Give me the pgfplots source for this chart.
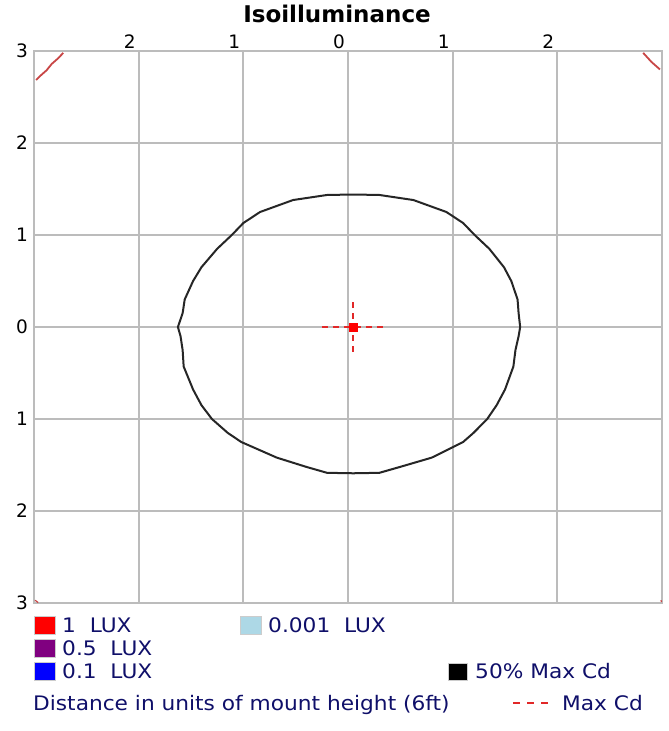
\documentclass[border=0pt]{standalone}
\usepackage{fontspec}
\setmainfont{DejaVu Sans}
\usepackage{graphicx}
\usepackage{pgfplots}
\pgfplotsset{compat=1.18}
\definecolor{gridgray}{RGB}{188,188,188}
\definecolor{navytxt}{RGB}{15,15,105}
\definecolor{luxred}{RGB}{200,70,70}
\definecolor{maxred}{RGB}{225,40,40}
\definecolor{lightb}{RGB}{173,216,230}
\begin{document}
\begin{tikzpicture}[x=1pt,y=1pt]
\useasboundingbox (0,0) rectangle (669,731);
\begin{axis}[
  at={(34pt,128pt)}, anchor=south west,
  scale only axis, width=628pt, height=552pt,
  xmin=-3,xmax=3,ymin=-3,ymax=3,
  axis line style={gridgray, line width=2.2pt},
  grid=major, grid style={gridgray, line width=2.2pt},
  major grid style={gridgray, line width=2.2pt},
  major tick length=0pt,
  xtick={-2,-1,0,1,2}, xticklabels={2,1,0,1,2},
  xticklabel pos=upper,
  ytick={-3,-2,-1,0,1,2,3}, yticklabels={3,2,1,0,1,2,3},
  ticklabel style={font=\fontsize{18.5}{20}\selectfont, text=black},
  xticklabel style={anchor=center, xshift=-9pt, yshift=9pt},
  yticklabel style={anchor=center, xshift=-12pt},
  /pgf/number format/assume math mode=true,
  clip=false,
]
% 50% Max Cd contour
\addplot[black!85, line width=2pt, line join=round] coordinates {
(0.05,1.44) (-0.2,1.435) (-0.525,1.38) (-0.84,1.25) (-1.0,1.13) (-1.11,1.0)
(-1.25,0.85) (-1.40,0.65) (-1.48,0.50) (-1.56,0.30) (-1.58,0.15) (-1.625,0.0)
(-1.60,-0.10) (-1.58,-0.25) (-1.57,-0.43) (-1.48,-0.68) (-1.40,-0.85) (-1.30,-1.0)
(-1.15,-1.15) (-1.02,-1.25) (-0.68,-1.42) (-0.4,-1.52) (-0.2,-1.585) (0.05,-1.59)
(0.3,-1.585) (0.5,-1.52) (0.8,-1.42) (1.1,-1.25) (1.2,-1.15) (1.33,-1.0)
(1.42,-0.85) (1.5,-0.68) (1.58,-0.43) (1.6,-0.25) (1.63,-0.1) (1.645,0)
(1.63,0.15) (1.62,0.3) (1.56,0.5) (1.49,0.65) (1.35,0.85) (1.21,1.0)
(1.1,1.13) (0.94,1.25) (0.625,1.38) (0.3,1.435) (0.05,1.44)
};
% 1 LUX corner traces
\addplot[luxred, line width=1.8pt] coordinates {(-2.98,2.685) (-2.93,2.74) (-2.88,2.79) (-2.83,2.86) (-2.77,2.92) (-2.72,2.98)};
\addplot[luxred, line width=1.8pt] coordinates {(2.82,2.98) (2.86,2.93) (2.90,2.88) (2.94,2.84) (2.98,2.80)};
\addplot[luxred, line width=1.2pt] coordinates {(-2.99,-2.97) (-2.96,-2.995)};
\addplot[luxred, line width=1.2pt] coordinates {(2.99,-2.97) (2.995,-2.99)};
% Max Cd
\addplot[maxred, dash pattern=on 6pt off 5pt, line width=2.4pt] coordinates {(-0.25,0) (0.33,0)};
\addplot[maxred, dash pattern=on 6pt off 5pt, line width=2.4pt] coordinates {(0.05,-0.27) (0.05,0.30)};
\addplot[only marks, mark=square*, mark size=4pt, red, mark options={draw=red}] coordinates {(0.05,0)};
\end{axis}
% title
\node[font=\fontsize{23}{27}\selectfont\bfseries, inner sep=0] at (337,717) {Isoilluminance};
% legend
\fill[red, draw=gray!40] (34,97) rectangle (55,115);
\fill[fill={rgb,255:red,128;green,0;blue,128}, draw=gray!40] (34,74) rectangle (55,92);
\fill[blue, draw=gray!40] (34,51) rectangle (55,69);
\fill[lightb, draw=gray!40] (240,97) rectangle (261,115);
\fill[black, draw=gray!40] (448,51) rectangle (467,68);
\begin{scope}[every node/.style={anchor=base west, inner sep=0, text=navytxt, font=\fontsize{20}{24}\selectfont}]
\node at (62,98.5) {\scalebox{1.085}[1]{1~~LUX}};
\node at (62,75.5) {\scalebox{1.085}[1]{0.5~~LUX}};
\node at (62,52.5) {\scalebox{1.085}[1]{0.1~~LUX}};
\node at (268,98.5) {\scalebox{1.085}[1]{0.001~~LUX}};
\node at (475,52.5) {\scalebox{1.085}[1]{50\% Max Cd}};
\node at (33,20.5) {\scalebox{1.085}[1]{Distance in units of mount height (6ft)}};
\node at (562,20.5) {\scalebox{1.085}[1]{Max Cd}};
\end{scope}
\draw[maxred, dash pattern=on 7pt off 7pt, line width=1.8pt] (513,28) -- (548,28);
\end{tikzpicture}
\end{document}
